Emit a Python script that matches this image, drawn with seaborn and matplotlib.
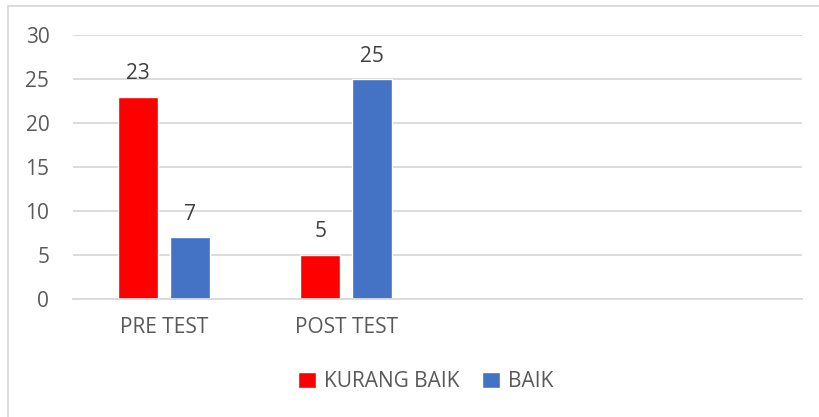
import pandas as pd
import matplotlib.pyplot as plt
import seaborn as sns
from matplotlib.patches import Rectangle

kategori = ["PRE TEST", "POST TEST"]
kosong = [" ", "  "]
kurang_baik = [23, 5]
baik = [7, 25]
label_seri = ["KURANG BAIK", "BAIK"]
warna = {"KURANG BAIK": "#ff0000", "BAIK": "#4472c4"}

df = pd.DataFrame({
    "kategori": kategori * 2,
    "seri": [label_seri[0]] * 2 + [label_seri[1]] * 2,
    "nilai": kurang_baik + baik,
})

sns.set_style("white")
plt.rcParams["font.family"] = ["Open Sans", "DejaVu Sans"]
abu = "#595959"

fig = plt.figure(figsize=(8.19, 4.17), dpi=100)
ax = fig.add_axes([0.0891, 0.283, 0.8899, 0.633])

sns.barplot(
    data=df, x="kategori", y="nilai", hue="seri",
    order=kategori + kosong, hue_order=label_seri,
    palette=warna, width=0.57, gap=0.23, saturation=1, ax=ax,
)

for cont in ax.containers:
    ax.bar_label(cont, padding=9, fontsize=15, color="#404040")

ax.set_ylim(0, 30)
ax.set_yticks(range(0, 31, 5))
ax.yaxis.grid(True, color="#d9d9d9", linewidth=1.3)
ax.set_axisbelow(True)
for s in ["top", "right", "left"]:
    ax.spines[s].set_visible(False)
ax.spines["bottom"].set_color("#d9d9d9")
ax.spines["bottom"].set_linewidth(1.3)
ax.set_xlabel("")
ax.set_ylabel("")
ax.tick_params(axis="both", length=0, labelsize=15, colors=abu)
ax.tick_params(axis="x", pad=13)
ax.tick_params(axis="y", pad=17)
for t in ax.get_yticklabels():
    t.set_horizontalalignment("right")

ax.legend(
    loc="center", bbox_to_anchor=(0.52, 0.085), bbox_transform=fig.transFigure,
    ncol=2, frameon=False, fontsize=15, labelcolor=abu,
    handlelength=0.85, handleheight=0.85, handletextpad=0.4, columnspacing=1.1,
)

fig.patches.append(Rectangle((8 / 819, -0.1), 1.2, 1 - 6 / 417 + 0.1,
                             transform=fig.transFigure, fill=False,
                             edgecolor="#d9d9d9", linewidth=1.3))

fig.savefig("out.png", dpi=100)
